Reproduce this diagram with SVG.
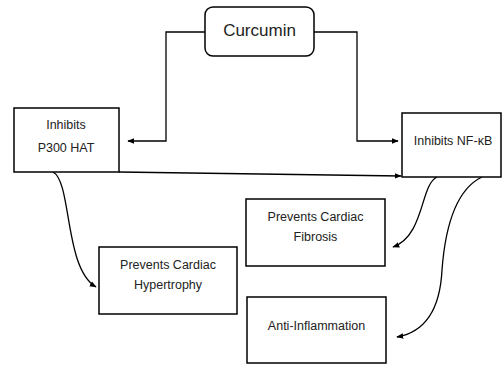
<svg xmlns="http://www.w3.org/2000/svg" width="502" height="367" viewBox="0 0 502 367">
<style>
.box{fill:#fff;stroke:#000;stroke-width:1.5}
.t{font-family:"Liberation Sans",Arial,sans-serif;font-size:12.5px;fill:#222;text-anchor:middle}
.c{fill:none;stroke:#000;stroke-width:1.3}
</style>
<defs>
<marker id="ah" viewBox="0 0 10 10" refX="9" refY="5" markerWidth="7" markerHeight="7" orient="auto" markerUnits="userSpaceOnUse">
<path d="M0,1 L10,5 L0,9 Z" fill="#000"/>
</marker>
</defs>
<rect width="502" height="367" fill="#fff"/>
<g id="connectors">
<path class="c" d="M205,32 H166 V141 H128" marker-end="url(#ah)"/>
<path class="c" d="M314,32 H357 V141 H398" marker-end="url(#ah)"/>
<path class="c" d="M119,172 L401,176" marker-end="url(#ah)"/>
<path class="c" d="M53,172 C72,182 64,268 96,287" marker-end="url(#ah)"/>
<path class="c" d="M437,177 C420,185 425,235 393,247" marker-end="url(#ah)"/>
<path class="c" d="M482,177 C455,190 445,230 442,270 C440,310 425,332 397,337" marker-end="url(#ah)"/>
</g>
<g id="curcumin">
<rect class="box" x="205" y="7" width="109" height="49" rx="8"/>
<text class="t" x="259.5" y="36" style="font-size:17px">Curcumin</text>
</g>
<g id="p300">
<rect class="box" x="14" y="108" width="105" height="64"/>
<text class="t" x="66" y="129">Inhibits</text>
<text class="t" x="66" y="152">P300 HAT</text>
</g>
<g id="nfkb">
<rect class="box" x="402" y="113" width="99" height="64"/>
<text class="t" x="453" y="145">Inhibits NF-κB</text>
</g>
<g id="hypertrophy">
<rect class="box" x="99" y="247" width="138" height="67"/>
<text class="t" x="168" y="269">Prevents Cardiac</text>
<text class="t" x="168" y="289">Hypertrophy</text>
</g>
<g id="fibrosis">
<rect class="box" x="246" y="199" width="139" height="67"/>
<text class="t" x="315.5" y="221">Prevents Cardiac</text>
<text class="t" x="315.5" y="241">Fibrosis</text>
</g>
<g id="inflammation">
<rect class="box" x="247" y="297" width="139" height="66"/>
<text class="t" x="316.5" y="330">Anti-Inflammation</text>
</g>
</svg>
